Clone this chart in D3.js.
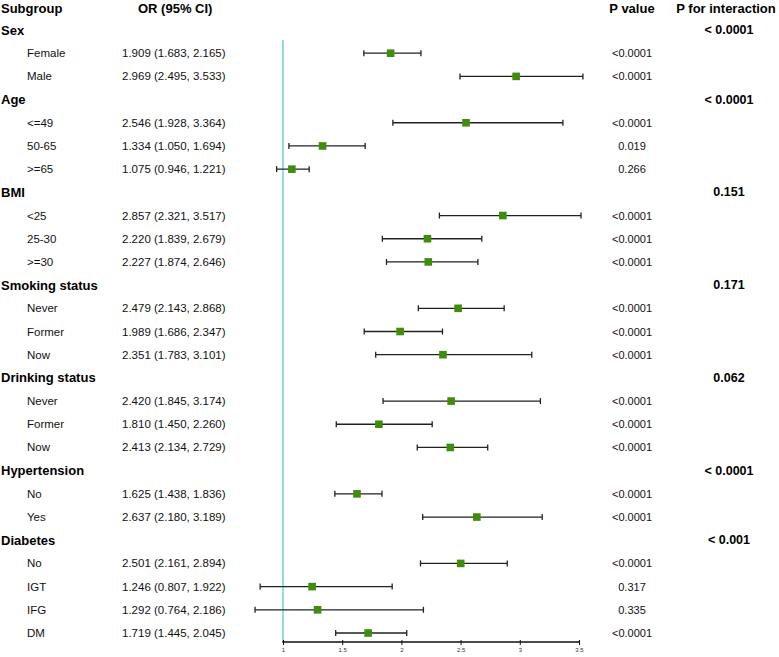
<!DOCTYPE html>
<html><head><meta charset="utf-8">
<script src="https://cdnjs.cloudflare.com/ajax/libs/d3/7.8.5/d3.min.js"></script>
<style>body{margin:0;background:#fff}svg{display:block;font-family:Arial,"Liberation Sans",sans-serif}</style>
</head><body><svg id="c" width="779" height="657"></svg>
<script>
const groups = ["Sex","Age","BMI","Smoking status","Drinking status","Hypertension","Diabetes"];
const pInteraction = ["< 0.0001","< 0.0001","0.151","0.171","0.062","< 0.0001","< 0.001"];
const subgroups = [["Female","Male"],["<=49","50-65",">=65"],["<25","25-30",">=30"],["Never","Former","Now"],["Never","Former","Now"],["No","Yes"],["No","IGT","IFG","DM"]];
const orValues = [1.909,2.969, 2.546,1.334,1.075, 2.857,2.220,2.227, 2.479,1.989,2.351, 2.420,1.810,2.413, 1.625,2.637, 2.501,1.246,1.292,1.719];
const lowerCI = [1.683,2.495, 1.928,1.050,0.946, 2.321,1.839,1.874, 2.143,1.686,1.783, 1.845,1.450,2.134, 1.438,2.180, 2.161,0.807,0.764,1.445];
const upperCI = [2.165,3.533, 3.364,1.694,1.221, 3.517,2.679,2.646, 2.868,2.347,3.101, 3.174,2.260,2.729, 1.836,3.189, 2.894,1.922,2.186,2.045];
const pValues = ["<0.0001","<0.0001", "<0.0001","0.019","0.266", "<0.0001","<0.0001","<0.0001", "<0.0001","<0.0001","<0.0001", "<0.0001","<0.0001","<0.0001", "<0.0001","<0.0001", "<0.0001","0.317","0.335","<0.0001"];
const xTicks = [1,1.5,2,2.5,3,3.5];

const svg = d3.select("#c");
// build rows
const rows = [];
let k = 0;
groups.forEach((g,gi)=>{
  rows.push({type:"group",label:g,pint:pInteraction[gi]});
  subgroups[gi].forEach(s=>{
    rows.push({type:"sub",label:s,or:orValues[k],lo:lowerCI[k],hi:upperCI[k],p:pValues[k]});
    k++;
  });
});
const y = d3.scaleLinear().domain([0,rows.length-1]).range([30,633]);
const x = d3.scaleLinear().domain([1,3.5]).range([283,579]);
const axisY = 642;

// headers
const hdr = svg.append("g").attr("font-weight","bold").attr("font-size",13).attr("fill","#000");
hdr.append("text").attr("x",1).attr("y",8).attr("dominant-baseline","central").text("Subgroup");
hdr.append("text").attr("x",138).attr("y",8).attr("dominant-baseline","central").text("OR (95% CI)");
hdr.append("text").attr("x",632).attr("y",8).attr("text-anchor","middle").attr("dominant-baseline","central").text("P value");
hdr.append("text").attr("x",726).attr("y",8).attr("text-anchor","middle").attr("dominant-baseline","central").text("P for interaction");

// reference line
svg.append("line").attr("x1",x(1)).attr("x2",x(1)).attr("y1",40).attr("y2",axisY)
  .attr("stroke","#6fd0de").attr("stroke-width",1.5);

const rg = svg.selectAll("g.row").data(rows).join("g").attr("class","row")
  .attr("transform",(d,i)=>`translate(0,${y(i)})`);

rg.filter(d=>d.type==="group").each(function(d){
  const g = d3.select(this);
  g.append("text").attr("x",1).attr("dominant-baseline","central").attr("font-weight","bold").attr("font-size",13).text(d.label);
  g.append("text").attr("x",729).attr("text-anchor","middle").attr("dominant-baseline","central").attr("font-weight","bold").attr("font-size",12.5).text(d.pint);
});
rg.filter(d=>d.type==="sub").each(function(d){
  const g = d3.select(this);
  g.append("text").attr("x",27).attr("dominant-baseline","central").attr("font-size",11.5).attr("fill","#111").text(d.label);
  g.append("text").attr("x",122).attr("dominant-baseline","central").attr("font-size",11.5).attr("fill","#111")
    .text(`${d.or.toFixed(3)} (${d.lo.toFixed(3)}, ${d.hi.toFixed(3)})`);
  g.append("text").attr("x",632).attr("text-anchor","middle").attr("dominant-baseline","central").attr("font-size",11).attr("fill","#111").text(d.p);
  g.append("line").attr("x1",x(d.lo)).attr("x2",x(d.hi)).attr("stroke","#222").attr("stroke-width",1.3);
  [d.lo,d.hi].forEach(v=>g.append("line").attr("x1",x(v)).attr("x2",x(v)).attr("y1",-3).attr("y2",3).attr("stroke","#222").attr("stroke-width",1.3));
  g.append("rect").attr("x",x(d.or)-3.8).attr("y",-3.8).attr("width",7.6).attr("height",7.6).attr("fill","#3f8d0b");
});

// axis
const ax = svg.append("g").attr("transform",`translate(0,${axisY})`)
  .call(d3.axisBottom(x).tickValues(xTicks).tickSize(3).tickFormat(d3.format("")));
ax.select(".domain").attr("stroke","#111").attr("stroke-width",1.3).attr("d",`M${x(1)},-1V0H${x(3.5)}V-1`);
ax.selectAll(".tick line").attr("stroke","#111").attr("y1",-2).attr("y2",3);
ax.selectAll(".tick text").attr("font-size",6).attr("fill","#333").attr("y",6);
</script></body></html>
